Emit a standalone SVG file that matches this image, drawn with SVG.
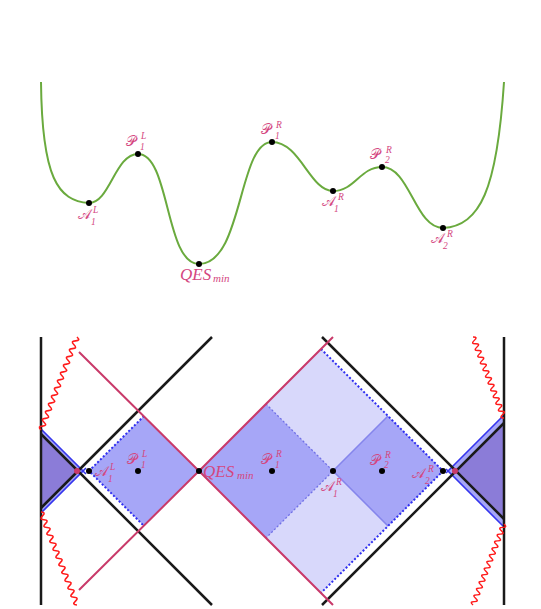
<svg xmlns="http://www.w3.org/2000/svg" xmlns:xlink="http://www.w3.org/1999/xlink" width="541" height="609" viewBox="0 0 541 609">
<style>
.lab{fill:#d4477f;font-family:"DejaVu Serif","Noto Sans","Liberation Serif",serif;font-size:14px}
.sm{fill:#d4477f;font-family:"Liberation Serif",serif;font-style:italic;font-size:9.5px}
.it{fill:#d4477f;font-family:"Liberation Serif",serif;font-style:italic}
.blk{stroke:#1a1a1a;stroke-width:2.5;fill:none}
.pink{stroke:#c93a6a;stroke-width:2;fill:none}
.dot{stroke:#2f2ff0;stroke-width:2;stroke-dasharray:2 2;fill:none}
.fdot{stroke:#7070e6;stroke-width:1.3;stroke-dasharray:2 2;fill:none}
.fsol{stroke:#8585ec;stroke-width:1.5;fill:none}
.bl{stroke:#3535ee;stroke-width:1.6;fill:none}
.wave{stroke:#ff1a1a;stroke-width:1.6;fill:none}
</style>
<defs>
<path id="wv" d="M0,0 q2.083,-5 4.1667,0 t4.1667,0 t4.1667,0 t4.1667,0 t4.1667,0 t4.1667,0 t4.1667,0 t4.1667,0 t4.1667,0 t4.1667,0 t4.1667,0 t4.1667,0 t4.1667,0 t4.1667,0 t4.1667,0 t4.1667,0 t4.1667,0 t4.1667,0 t4.1667,0 t4.1667,0 t4.1667,0 t4.1667,0 t4.1667,0 t4.1667,0"/>
</defs>
<rect width="541" height="609" fill="#ffffff"/>

<!-- Top: entropy curve -->
<g id="curve">
<path d="M41,82 C42,178 58,201 89,203 C110,203 115,154 138,154 C170,154 165,264 199,264 C243,264 238,142 272,142 C300,142 310,191 333,191 C355,191 360,167 382,167 C410,167 415,228 443,228 C480,226 497,190 504,82" fill="none" stroke="#6aaa3e" stroke-width="2"/>
</g>
<g id="top-points" fill="#000">
<circle cx="89" cy="203" r="3"/>
<circle cx="138" cy="154" r="3"/>
<circle cx="199" cy="264" r="3"/>
<circle cx="272" cy="142" r="3"/>
<circle cx="333" cy="191" r="3"/>
<circle cx="382" cy="167" r="3"/>
<circle cx="443" cy="228" r="3"/>
</g>
<g id="top-labels">
<text class="lab" x="78" y="219">𝒜</text><text class="sm" x="93" y="212.5">L</text><text class="sm" x="91" y="224.5">1</text>
<text class="lab" x="126" y="145.5">𝒫</text><text class="sm" x="141" y="139">L</text><text class="sm" x="140" y="149.5">1</text>
<text class="it" x="180" y="280" font-size="17">QES</text><text class="it" x="213" y="282" font-size="11">min</text>
<text class="lab" x="261" y="134">𝒫</text><text class="sm" x="276" y="128">R</text><text class="sm" x="275" y="138.5">1</text>
<text class="lab" x="322" y="206">𝒜</text><text class="sm" x="338" y="199.5">R</text><text class="sm" x="334" y="211.5">1</text>
<text class="lab" x="370" y="158.5">𝒫</text><text class="sm" x="386" y="152.5">R</text><text class="sm" x="385" y="163">2</text>
<text class="lab" x="431" y="243">𝒜</text><text class="sm" x="447" y="236.5">R</text><text class="sm" x="443" y="248.5">2</text>
</g>

<!-- Bottom: Penrose diagram -->
<g id="regions">
<polygon points="199,471 321,349 443,471 321,593" fill="#d8d8fb"/>
<polygon points="89,471 144,416 199,471 144,526" fill="#a6a6f7"/>
<polygon points="199,471 266,404 333,471 266,538" fill="#a6a6f7"/>
<polygon points="333,471 388,416 443,471 388,526" fill="#a6a6f7"/>
<polygon points="41,429 84,471 41,513" fill="#a6a6f7"/>
<polygon points="504,415 448,471 504,527" fill="#a6a6f7"/>
<polygon points="41,435 77,471 41,507" fill="#8b7cd8"/>
<polygon points="504,422 455,471 504,520" fill="#8b7cd8"/>
</g>
<g id="connectors">
<path class="fdot" d="M266,404 L333,471 L266,538"/>
<path class="fsol" d="M388,416 L333,471 L388,526"/>
<path class="dot" d="M144,416 L89,471 L144,526"/>
<path class="dot" d="M321,349 L443,471 L321,593"/>
<path class="bl" d="M41,429 L86,474 M41,513 L86,468"/>
<path class="bl" d="M504,415 L446,473 M504,527 L446,469"/>
<path class="blk" d="M41,337 L41,605 M504,337 L504,605"/>
<path class="blk" d="M212,337 L41,508 M41,434 L212,605"/>
<path class="blk" d="M322,337 L504,519 M504,423 L322,605"/>
<path class="pink" d="M79,352 L199,471 L79,590"/>
<path class="pink" d="M333,337 L199,471 L333,605"/>
<use href="#wv" xlink:href="#wv" class="wave" transform="translate(77,337) rotate(111.16) scale(0.997,1)"/>
<use href="#wv" xlink:href="#wv" class="wave" transform="translate(41,512) rotate(68.84) scale(0.997,1)"/>
<use href="#wv" xlink:href="#wv" class="wave" transform="translate(473,337) rotate(69.06) scale(0.867,1)"/>
<use href="#wv" xlink:href="#wv" class="wave" transform="translate(504,524) rotate(110.94) scale(0.867,1)"/>
</g>
<g id="bottom-points">
<circle cx="77" cy="471" r="3" fill="#c93a6a"/>
<circle cx="455" cy="471" r="3" fill="#c93a6a"/>
<circle cx="89" cy="471" r="3" fill="#000"/>
<circle cx="138" cy="471" r="3" fill="#000"/>
<circle cx="199" cy="471" r="3" fill="#000"/>
<circle cx="272" cy="471" r="3" fill="#000"/>
<circle cx="333" cy="471" r="3" fill="#000"/>
<circle cx="382" cy="471" r="3" fill="#000"/>
<circle cx="443" cy="471" r="3" fill="#000"/>
</g>
<g id="bottom-labels">
<text class="lab" x="95" y="476">𝒜</text><text class="sm" x="110" y="469.5">L</text><text class="sm" x="108" y="481.5">1</text>
<text class="lab" x="127" y="464">𝒫</text><text class="sm" x="142" y="457">L</text><text class="sm" x="141" y="467.5">1</text>
<text class="it" x="203" y="477" font-size="17">QES</text><text class="it" x="237" y="479" font-size="11">min</text>
<text class="lab" x="261" y="464">𝒫</text><text class="sm" x="276" y="457">R</text><text class="sm" x="275" y="467.5">1</text>
<text class="lab" x="321" y="491">𝒜</text><text class="sm" x="336" y="484.5">R</text><text class="sm" x="333" y="496.5">1</text>
<text class="lab" x="370" y="464.5">𝒫</text><text class="sm" x="385" y="457.5">R</text><text class="sm" x="384" y="468">2</text>
<text class="lab" x="412" y="478">𝒜</text><text class="sm" x="428" y="471.5">R</text><text class="sm" x="425" y="483.5">2</text>
</g>
</svg>
